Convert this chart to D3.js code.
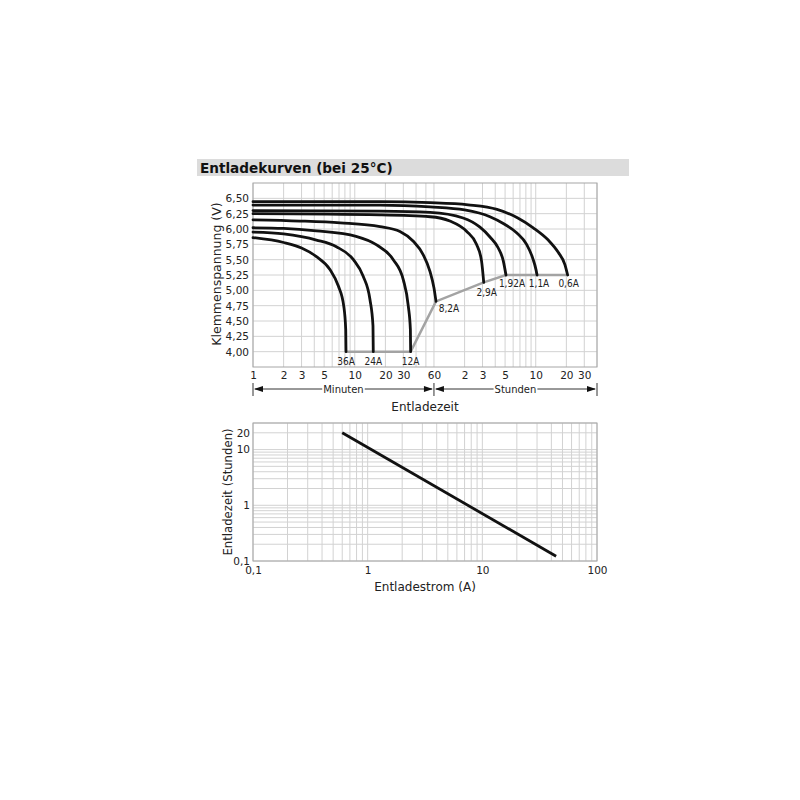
<!DOCTYPE html>
<html>
<head>
<meta charset="utf-8">
<script src="https://cdn.jsdelivr.net/npm/d3@7"></script>
<style>
  body { margin: 0; background: #fff; }
  svg text { font-family: "DejaVu Sans", Verdana, sans-serif; fill: #222; }
  .lbl { font-family: "Liberation Sans Narrow", "DejaVu Sans Condensed", "Liberation Sans", sans-serif; font-size: 10px; }
</style>
</head>
<body>
<div id="chart"></div>
<script>
// Entladekurven (bei 25°C)

// oberes Diagramm: Zeit in Minuten, Spannung in Volt
var minuteTicks = [1, 2, 3, 5, 10, 20, 30, 60];
var hourTicks = [2, 3, 5, 10, 20, 30];
var voltTicks = [4.00, 4.25, 4.50, 4.75, 5.00, 5.25, 5.50, 5.75, 6.00, 6.25, 6.50];
var minuteGrid = [1, 2, 3, 4, 5, 6, 7, 8, 9, 10, 20, 30, 40, 50, 60];
var hourGrid = [2, 3, 4, 5, 6, 7, 8, 9, 10, 20, 30, 40];

var curve36A = [[1,5.86],[2,5.78],[3,5.69],[4.2,5.55],[5.7,5.34],[6.9,5.07],[7.8,4.74],[8.15,4.36],[8.2,4.00]];
var curve24A = [[1,5.95],[2,5.92],[4.2,5.82],[6.6,5.71],[9.7,5.50],[12.1,5.23],[14.1,4.85],[15.1,4.42],[15.2,4.00]];
var curve12A = [[1,6.02],[2,6.01],[4.2,5.97],[10.3,5.88],[16.4,5.74],[23.9,5.50],[30,5.17],[33.6,4.74],[35.2,4.36],[35.4,4.00]];
var curve8_2A = [[1,6.15],[2.9,6.13],[7.2,6.10],[17.7,6.04],[27.8,5.96],[37.6,5.80],[47.1,5.58],[54.8,5.31],[60,5.04],[62.8,4.82]];
var curve2_9A = [[1,6.25],[17.7,6.23],[55,6.20],[86,6.13],[126,5.96],[157,5.75],[176,5.48],[185,5.13]];
var curve1_92A = [[1,6.30],[17.7,6.29],[55,6.27],[116,6.18],[170,6.03],[213,5.87],[257,5.69],[288,5.48],[306,5.25]];
var curve1_1A = [[1,6.39],[17.7,6.39],[55,6.36],[120,6.31],[213,6.20],[288,6.09],[389,5.94],[488,5.75],[559,5.53],[605,5.33],[618,5.25]];
var curve0_6A = [[1,6.445],[17.7,6.445],[55,6.43],[130,6.395],[250,6.32],[400,6.18],[567,6.02],[796,5.82],[998,5.62],[1161,5.42],[1235,5.25]];

var curves = [curve36A, curve24A, curve12A, curve8_2A, curve2_9A, curve1_92A, curve1_1A, curve0_6A];
var curveNames = ["36A", "24A", "12A", "8,2A", "2,9A", "1,92A", "1,1A", "0,6A"];
var labelOffsets = [[0,13],[0,13],[0,13],[13,11],[3,14],[6,12],[2,12],[1,12]];

var endVoltage = [[8.2,4.00],[35.4,4.00],[62.8,4.82],[185,5.13],[306,5.25],[1235,5.25]];

var timeSpans = [[1, 60, "Minuten"], [60, 2400, "Stunden"]];

// unteres Diagramm: Entladestrom in A, Entladezeit in Stunden
var currentTicks = [0.1, 1, 10, 100];
var durationTicks = [0.1, 1, 10, 20];
var durationLine = [[0.6, 20], [44, 0.122]];

var de = d3.formatLocale({decimal: ",", thousands: ".", grouping: [3], currency: ["", " €"]});
var fmt2 = de.format(".2f");
var fmtN = function(d) { return de.format("")(d); };

var svg = d3.select("#chart").append("svg")
  .attr("width", 800)
  .attr("height", 800);

// Titelbalken
svg.append("rect")
  .attr("x", 197).attr("y", 159)
  .attr("width", 432).attr("height", 17)
  .attr("fill", "#dcdcdc");
svg.append("text")
  .attr("x", 200).attr("y", 172.5)
  .attr("font-size", "13.6px")
  .attr("font-weight", "bold")
  .style("fill", "#111")
  .text("Entladekurven (bei 25°C)");

var gridColor = "#d2d2d2";
var boxColor = "#a6a6a6";

// ---------- oberes Diagramm ----------
var x = d3.scaleLog().domain([1, 2400]).range([253, 597]);
var y = d3.scaleLinear().domain([3.75, 6.75]).range([367, 183]);

var topG = svg.append("g");

var vGrid = minuteGrid.concat(hourGrid.map(function(h) { return h * 60; }));
topG.selectAll(".vg").data(vGrid).enter().append("line")
  .attr("x1", function(d) { return x(d); })
  .attr("x2", function(d) { return x(d); })
  .attr("y1", y.range()[1]).attr("y2", y.range()[0])
  .attr("stroke", gridColor);

topG.selectAll(".hg").data(voltTicks).enter().append("line")
  .attr("x1", x.range()[0]).attr("x2", x.range()[1])
  .attr("y1", function(d) { return y(d); })
  .attr("y2", function(d) { return y(d); })
  .attr("stroke", gridColor);

topG.append("rect")
  .attr("x", x.range()[0]).attr("y", y.range()[1])
  .attr("width", x.range()[1] - x.range()[0])
  .attr("height", y.range()[0] - y.range()[1])
  .attr("fill", "none")
  .attr("stroke", boxColor);

var line = d3.line()
  .x(function(d) { return x(d[0]); })
  .y(function(d) { return y(d[1]); })
  .curve(d3.curveMonotoneX);

topG.append("path")
  .datum(endVoltage)
  .attr("d", d3.line().x(function(d) { return x(d[0]); }).y(function(d) { return y(d[1]); }))
  .attr("fill", "none")
  .attr("stroke", "#a3a3a3")
  .attr("stroke-width", 2.5);

topG.selectAll(".curve").data(curves).enter().append("path")
  .attr("d", line)
  .attr("fill", "none")
  .attr("stroke", "#111")
  .attr("stroke-width", 2.8)
  .attr("stroke-linecap", "round");

topG.selectAll(".lbl").data(curves).enter().append("text")
  .attr("class", "lbl")
  .attr("text-anchor", "middle")
  .attr("x", function(d, i) { return x(d[d.length - 1][0]) + labelOffsets[i][0]; })
  .attr("y", function(d, i) { return y(d[d.length - 1][1]) + labelOffsets[i][1]; })
  .text(function(d, i) { return curveNames[i]; });

// Achsen
var yAxis = topG.append("g")
  .attr("transform", "translate(" + x.range()[0] + ",0)")
  .call(d3.axisLeft(y).tickValues(voltTicks).tickFormat(fmt2).tickSize(0).tickPadding(4));
var xAxisMin = topG.append("g")
  .attr("transform", "translate(0," + y.range()[0] + ")")
  .call(d3.axisBottom(x).tickValues(minuteTicks).tickFormat(fmtN).tickSize(0).tickPadding(5));
var xAxisHour = topG.append("g")
  .attr("transform", "translate(0," + y.range()[0] + ")")
  .call(d3.axisBottom(x).tickValues(hourTicks.map(function(h) { return h * 60; }))
    .tickFormat(function(m) { return fmtN(m / 60); }).tickSize(0).tickPadding(5));
[yAxis, xAxisMin, xAxisHour].forEach(function(a) {
  a.select(".domain").remove();
  a.selectAll("text").attr("font-size", "10.5px").style("fill", "#222")
    .attr("font-family", "DejaVu Sans, Verdana, sans-serif");
});

// Minuten / Stunden Pfeile
var arrowY = 389;
timeSpans.forEach(function(s) {
  var a = x(s[0]), b = x(s[1]);
  topG.append("line")
    .attr("x1", a + 2).attr("x2", b - 2)
    .attr("y1", arrowY).attr("y2", arrowY)
    .attr("stroke", "#333").attr("stroke-width", 1);
  topG.append("path")
    .attr("d", "M" + (a + 1) + "," + arrowY + "L" + (a + 10) + "," + (arrowY - 3) + "L" + (a + 10) + "," + (arrowY + 3) + "Z")
    .attr("fill", "#111");
  topG.append("path")
    .attr("d", "M" + (b - 1) + "," + arrowY + "L" + (b - 10) + "," + (arrowY - 3) + "L" + (b - 10) + "," + (arrowY + 3) + "Z")
    .attr("fill", "#111");
  var cx = x(Math.sqrt(s[0] * s[1]));
  var t = topG.append("text")
    .attr("x", cx).attr("y", arrowY + 4)
    .attr("text-anchor", "middle")
    .attr("font-size", "10px")
    .text(s[2]);
  var bb = t.node().getBBox();
  topG.insert("rect", function() { return t.node(); })
    .attr("x", bb.x - 1).attr("y", bb.y)
    .attr("width", bb.width + 2).attr("height", bb.height)
    .attr("fill", "#fff");
});
topG.selectAll(".bar").data([1, 60, 2400]).enter().append("line")
  .attr("x1", function(d) { return x(d); })
  .attr("x2", function(d) { return x(d); })
  .attr("y1", arrowY - 6).attr("y2", arrowY + 7)
  .attr("stroke", "#333");

topG.append("text")
  .attr("x", 425).attr("y", 410.5)
  .attr("text-anchor", "middle")
  .attr("font-size", "12px")
  .text("Entladezeit");

topG.append("text")
  .attr("transform", "translate(221,274) rotate(-90)")
  .attr("text-anchor", "middle")
  .attr("font-size", "12.5px")
  .text("Klemmenspannung (V)");

// ---------- unteres Diagramm ----------
var x2 = d3.scaleLog().domain([0.1, 100]).range([253, 597]);
var y2 = d3.scaleLog().domain([0.1, 30]).range([561, 423]);

var bot = svg.append("g");

bot.selectAll(".vg").data(x2.ticks()).enter().append("line")
  .attr("x1", function(d) { return x2(d); })
  .attr("x2", function(d) { return x2(d); })
  .attr("y1", y2.range()[1]).attr("y2", y2.range()[0])
  .attr("stroke", gridColor);

bot.selectAll(".hg").data(y2.ticks()).enter().append("line")
  .attr("x1", x2.range()[0]).attr("x2", x2.range()[1])
  .attr("y1", function(d) { return y2(d); })
  .attr("y2", function(d) { return y2(d); })
  .attr("stroke", gridColor);

bot.append("rect")
  .attr("x", x2.range()[0]).attr("y", y2.range()[1])
  .attr("width", x2.range()[1] - x2.range()[0])
  .attr("height", y2.range()[0] - y2.range()[1])
  .attr("fill", "none")
  .attr("stroke", boxColor);

bot.append("path")
  .datum(durationLine)
  .attr("d", d3.line().x(function(d) { return x2(d[0]); }).y(function(d) { return y2(d[1]); }))
  .attr("fill", "none")
  .attr("stroke", "#111")
  .attr("stroke-width", 2.8);

var xAxis2 = bot.append("g")
  .attr("transform", "translate(0," + y2.range()[0] + ")")
  .call(d3.axisBottom(x2).tickValues(currentTicks).tickFormat(fmtN).tickSize(0).tickPadding(6));
var yAxis2 = bot.append("g")
  .attr("transform", "translate(" + x2.range()[0] + ",0)")
  .call(d3.axisLeft(y2).tickValues(durationTicks).tickFormat(fmtN).tickSize(0).tickPadding(3));
[xAxis2, yAxis2].forEach(function(a) {
  a.select(".domain").remove();
  a.selectAll("text").attr("font-size", "10.5px").style("fill", "#222")
    .attr("font-family", "DejaVu Sans, Verdana, sans-serif");
});

bot.append("text")
  .attr("x", 425).attr("y", 591)
  .attr("text-anchor", "middle")
  .attr("font-size", "12px")
  .text("Entladestrom (A)");

bot.append("text")
  .attr("transform", "translate(232,492) rotate(-90)")
  .attr("text-anchor", "middle")
  .attr("font-size", "11.7px")
  .text("Entladezeit (Stunden)");
</script>
</body>
</html>
